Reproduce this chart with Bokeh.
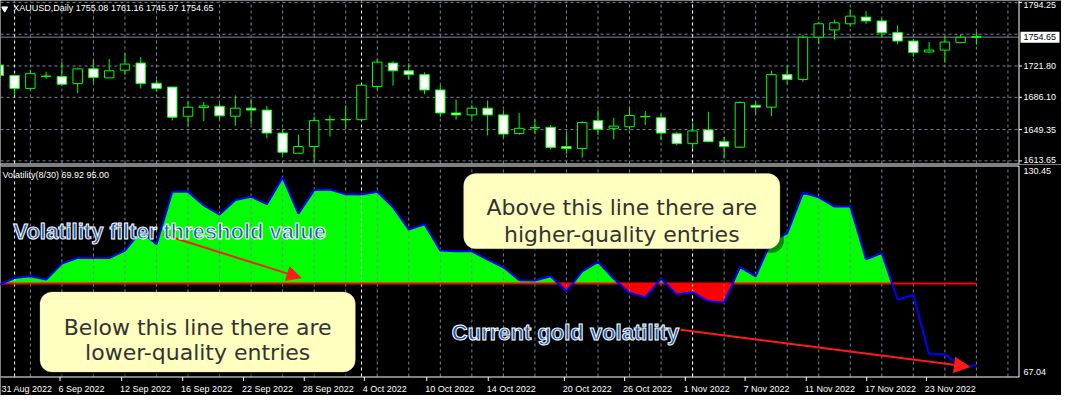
from bokeh.plotting import figure
from bokeh.layouts import column
from bokeh.models import Range1d, Label, BoxAnnotation, Arrow, NormalHead, ColumnDataSource
from bokeh.core.properties import value
from bokeh.embed import file_html
from bokeh.resources import INLINE

# ---------------- data ----------------
bar_index = list(range(-1, 62))
opens = [1722.89, 1710.87, 1696.24, 1709.90, 1709.78, 1701.70, 1718.52, 1708.25, 1716.99, 1725.08,
         1702.14, 1697.77, 1664.56, 1674.39, 1675.92, 1664.56, 1673.73, 1671.55, 1645.33, 1622.39,
         1630.04, 1660.40, 1660.80, 1660.62, 1698.42, 1725.08, 1716.34, 1711.97, 1694.49, 1668.27,
         1666.09, 1673.73, 1666.09, 1644.89, 1651.20, 1651.89, 1630.04, 1627.85, 1659.53, 1650.79,
         1652.54, 1664.00, 1662.81, 1644.57, 1633.31, 1648.94, 1635.50, 1629.27, 1677.01, 1674.83,
         1711.97, 1706.51, 1754.57, 1762.87, 1769.86, 1777.51, 1773.14, 1760.03, 1750.20, 1737.75,
         1739.93, 1748.67, 1755.08]
highs = [1725.40, 1711.50, 1717.43, 1715.24, 1726.50, 1719.94, 1729.01, 1729.77, 1736.33, 1731.96,
         1706.07, 1697.77, 1680.94, 1680.62, 1679.19, 1688.26, 1684.66, 1676.25, 1650.03, 1643.47,
         1664.23, 1665.32, 1677.01, 1700.50, 1730.10, 1727.26, 1725.08, 1714.48, 1699.95, 1683.56,
         1677.67, 1682.47, 1671.55, 1668.27, 1660.62, 1654.40, 1645.33, 1658.77, 1671.55, 1662.81,
         1675.48, 1670.46, 1666.41, 1647.08, 1657.35, 1669.69, 1640.96, 1681.38, 1681.38, 1716.34,
         1721.80, 1757.08, 1772.05, 1774.56, 1786.58, 1784.39, 1775.98, 1768.01, 1752.71, 1749.11,
         1755.23, 1757.85, 1761.16]
lows = [1709.80, 1689.03, 1694.49, 1707.16, 1699.19, 1690.77, 1702.79, 1708.25, 1711.53, 1696.24,
        1692.63, 1659.86, 1653.63, 1659.10, 1660.62, 1653.63, 1655.49, 1639.43, 1620.86, 1622.39,
        1613.98, 1641.62, 1650.03, 1660.00, 1695.14, 1699.51, 1706.07, 1689.68, 1663.46, 1660.62,
        1661.72, 1642.71, 1640.52, 1643.47, 1644.24, 1626.76, 1621.63, 1617.26, 1643.15, 1638.34,
        1648.94, 1654.40, 1637.25, 1631.46, 1627.09, 1635.06, 1616.49, 1628.18, 1666.41, 1664.56,
        1701.70, 1703.88, 1746.49, 1751.95, 1766.59, 1769.43, 1754.57, 1746.49, 1732.29, 1737.09,
        1725.40, 1748.67, 1745.97]
closes = [1710.87, 1696.24, 1713.06, 1710.30, 1701.04, 1718.52, 1708.69, 1716.34, 1723.98, 1701.70,
          1696.24, 1663.46, 1674.83, 1676.25, 1664.99, 1673.73, 1671.55, 1645.33, 1623.48, 1630.04,
          1659.53, 1660.80, 1660.50, 1699.95, 1726.17, 1716.34, 1711.97, 1694.49, 1668.27, 1666.09,
          1673.73, 1666.09, 1644.24, 1650.79, 1651.60, 1628.94, 1627.85, 1657.35, 1649.70, 1653.31,
          1665.32, 1664.40, 1645.33, 1633.31, 1647.84, 1635.50, 1630.04, 1680.29, 1674.83, 1711.97,
          1706.51, 1754.57, 1769.86, 1770.96, 1778.60, 1773.14, 1759.60, 1750.20, 1737.09, 1739.93,
          1749.11, 1754.57, 1754.65]
volatility = [94.6, 96.7, 97.2, 96.2, 101.1, 102.9, 102.8, 102.8, 105.1, 111.0,
              107.0, 123.1, 123.1, 118.9, 116.1, 120.6, 121.6, 119.3, 127.5, 116.4,
              123.6, 123.8, 122.3, 122.28, 123.08, 118.36, 111.49, 113.14, 105.09, 104.88,
              104.88, 102.35, 99.99, 96.04, 95.95, 97.21, 92.61, 98.69, 101.64, 96.45,
              92.11, 90.84, 96.45, 91.61, 92.32, 89.55, 89.16, 99.99, 97.21, 108.04,
              110.40, 122.78, 121.40, 118.57, 118.57, 102.43, 104.29, 90.05, 91.52, 73.33,
              73.33, 69.70, 69.92]
threshold = 95.00
fill_until_bar = 55          # last bar of the filled histogram
last_price = 1754.65
price_ticks = [1794.25, 1721.80, 1686.10, 1649.35, 1613.65]
price_grid = [1794.25, 1758.00, 1721.80, 1686.10, 1649.35, 1613.65]
vol_scale = [130.45, 67.04]
month_starts = [0, 22, 43]
date_labels = ["31 Aug 2022", "6 Sep 2022", "12 Sep 2022", "16 Sep 2022", "22 Sep 2022", "28 Sep 2022",
               "4 Oct 2022", "10 Oct 2022", "14 Oct 2022", "20 Oct 2022", "26 Oct 2022", "1 Nov 2022",
               "7 Nov 2022", "11 Nov 2022", "17 Nov 2022", "23 Nov 2022"]
date_pos = [-1.12, 2.78, 6.69, 10.56, 14.42, 18.27, 22.08, 26.04, 29.94, 34.77, 38.59, 42.44,
            46.23, 50.11, 53.94, 57.73]
header_text = "XAUUSD,Daily  1755.08 1761.16 1745.97 1754.65"
ind_header = "Volatility(8/30) 69.92 95.00"

# ---------------- layout constants ----------------
W = 1061
H1, H2 = 164, 231
PLOT_W = 1018
PLOT1_H = 163
GAP2, PLOT2_H, STRIP2 = 2, 210, 19
X0, X_EDGE = -0.894, 63.67
P_LO, P_HI = 1610.7, 1796.41
V_LO, V_HI = 66.54, 130.83
ux = (X_EDGE - X0) / PLOT_W
uy1 = (P_HI - P_LO) / PLOT1_H
uy2 = (V_HI - V_LO) / PLOT2_H
X_FULL = X0 + W * ux

BG = "black"
GRID = "#778899"
LIME = "#00ff00"
FONT = "Liberation Sans"
F9 = "9px"

xr = Range1d(X0, X_FULL)

def make_fig(h, yr):
    p = figure(width=W, height=h, x_range=xr, y_range=yr, output_backend="svg",
               toolbar_location=None, x_axis_location=None, y_axis_location=None,
               min_border=0, min_border_left=0, min_border_right=0, min_border_top=0,
               min_border_bottom=0, background_fill_color=BG, border_fill_color=BG,
               outline_line_color=None)
    p.grid.visible = False
    return p

odd_ticks = list(range(1, 64, 2))

def vgrid(p, lo, hi):
    n = len(odd_ticks)
    p.segment(x0=odd_ticks, y0=[lo] * n, x1=odd_ticks, y1=[hi] * n,
              line_color=GRID, line_dash="3 3", line_width=1)

def month_lines(p, lo, hi):
    n = len(month_starts)
    p.segment(x0=month_starts, y0=[lo] * n, x1=month_starts, y1=[hi] * n,
              line_color="white", line_dash="3 3", line_width=1)

def txt(p, x, y, t, color="white", align="left", baseline="middle", size=F9, font=FONT):
    p.text(x=x, y=y, text=t, text_color=color, text_align=align, text_baseline=baseline,
           text_font=value(font), text_font_size=size)

# ---------------- price panel ----------------
p1 = make_fig(H1, Range1d(P_LO - 1 * uy1, P_HI))
vgrid(p1, P_LO, P_HI)
m = len(price_grid)
p1.segment(x0=[X0] * m, y0=price_grid, x1=[X_EDGE] * m, y1=price_grid,
           line_color=GRID, line_dash="3 3", line_width=1)
month_lines(p1, P_LO, P_HI)
p1.segment(x0=[X0], y0=[last_price], x1=[X_EDGE], y1=[last_price], line_color=GRID, line_width=1)

src = ColumnDataSource(dict(
    x=bar_index, l=lows, h=highs,
    top=[max(o, c) for o, c in zip(opens, closes)],
    bot=[min(o, c) for o, c in zip(opens, closes)],
    fill=["white" if c < o else "black" for o, c in zip(opens, closes)],
))
p1.segment(x0="x", y0="l", x1="x", y1="h", source=src, line_color=LIME, line_width=1)
p1.vbar(x="x", width=0.6, top="top", bottom="bot", source=src, fill_color="fill",
        line_color=LIME, line_width=1)

# frame lines + right price scale
xe = X_EDGE + 0.5 * ux
p1.segment(x0=[xe], y0=[P_LO - 1 * uy1], x1=[xe], y1=[P_HI], line_color="white", line_width=1)
p1.segment(x0=[X0], y0=[P_LO - 0.5 * uy1], x1=[xe], y1=[P_LO - 0.5 * uy1], line_color="white", line_width=1)
k = len(price_ticks)
p1.segment(x0=[xe] * k, y0=price_ticks, x1=[X_EDGE + 3.5 * ux] * k, y1=price_ticks,
           line_color="white", line_width=1)
label_y = [min(max(v, P_LO + 3.7 * uy1), P_HI - 4.8 * uy1) for v in price_ticks]  # keep labels on canvas
txt(p1, [X_EDGE + 5 * ux] * k, label_y, [f"{v:.2f}" for v in price_ticks])
p1.rect(x=[X_EDGE + 21.5 * ux], y=[last_price], width=39, height=11,
        width_units="screen", height_units="screen", fill_color="white", line_color=None)
txt(p1, [X_EDGE + 5 * ux], [last_price], [f"{last_price:.2f}"], color="black")

p1.scatter(x=[-0.63], y=[1787.1], marker="inverted_triangle", size=6, color="white")
txt(p1, [-0.08], [1787.6], [header_text])

# ---------------- volatility panel ----------------
p2 = make_fig(H2, Range1d(V_LO - STRIP2 * uy2, V_HI + GAP2 * uy2))

xs_f, ys_f = [], []
for i in range(len(bar_index) - 1):
    x0, v0, x1, v1 = bar_index[i], volatility[i], bar_index[i + 1], volatility[i + 1]
    if x0 > fill_until_bar:
        break
    xs_f.append(x0); ys_f.append(v0)
    if (v0 - threshold) * (v1 - threshold) < 0:
        t = (threshold - v0) / (v1 - v0)
        xs_f.append(x0 + t * (x1 - x0)); ys_f.append(threshold)
up = [max(v, threshold) for v in ys_f]
dn = [min(v, threshold) for v in ys_f]
thr_row = [threshold] * len(xs_f)
p2.varea(x=xs_f, y1=thr_row, y2=up, fill_color=LIME)
p2.varea(x=xs_f, y1=dn, y2=thr_row, fill_color="#ff0000")

vgrid(p2, V_LO, V_HI)
month_lines(p2, V_LO, V_HI)

p2.line(x=[bar_index[0], bar_index[-1]], y=[threshold, threshold], line_color="#ff0000", line_width=2)
p2.line(x=bar_index, y=volatility, line_color="#0000ff", line_width=2)

# frame lines, scale labels, date axis
yt, yb = V_HI + 0.5 * uy2, V_LO - 0.5 * uy2
p2.segment(x0=[X0, X0, xe], y0=[yt, yb, yb], x1=[xe, xe, xe], y1=[yt, yb, yt],
           line_color="white", line_width=1)
txt(p2, [X_EDGE + 5 * ux], [vol_scale[0]], [f"{vol_scale[0]:.2f}"], baseline="top")
txt(p2, [X_EDGE + 5 * ux], [vol_scale[1]], [f"{vol_scale[1]:.2f}"], baseline="bottom")
nd = len(date_pos)
tick_x = [d + 0.1 for d in date_pos]
p2.segment(x0=tick_x, y0=[yb] * nd, x1=tick_x, y1=[V_LO - 4.5 * uy2] * nd,
           line_color="white", line_width=1)
date_x = [max(d, X0 + 1 * ux) for d in date_pos]  # keep first label on canvas
txt(p2, date_x, [V_LO - 12.2 * uy2] * nd, date_labels, baseline="alphabetic")
txt(p2, [-0.77], [128.1], [ind_header])

# ---------------- annotations ----------------
has_radius = "border_radius" in BoxAnnotation.properties()

def note_box(left, right, top, bottom):
    sx, sy = 4 * ux, 4 * uy2
    kw = dict(border_radius=12) if has_radius else {}
    p2.add_layout(BoxAnnotation(left=left + sx, right=right + sx, top=top - sy, bottom=bottom - sy,
                                fill_color="black", fill_alpha=0.45, line_color=None, **kw))
    p2.add_layout(BoxAnnotation(left=left, right=right, top=top, bottom=bottom,
                                fill_color="#ffffc0", fill_alpha=1.0, line_color="#d8d3a8",
                                line_width=1, **kw))

note_box(28.48, 48.54, 128.68, 105.68)
note_box(1.61, 21.61, 92.41, 67.93)

box_kw = dict(text_color="#333333", text_font="DejaVu Sans", text_font_size="22px",
              text_align="center", text_baseline="alphabetic")
p2.add_layout(Label(x=38.51, y=118.36, text="Above this line there are", **box_kw))
p2.add_layout(Label(x=38.51, y=110.10, text="higher-quality entries", **box_kw))
p2.add_layout(Label(x=11.61, y=81.5, text="Below this line there are", **box_kw))
p2.add_layout(Label(x=11.61, y=73.83, text="lower-quality entries", **box_kw))

has_outline = "text_outline_color" in Label.properties()
BLUE_TXT = "#1a55a8"

def blue_text(x, y, text):
    kw = dict(text_font=FONT, text_font_size="22px", text_font_style="bold",
              text_align="left", text_baseline="alphabetic")
    if has_outline:
        p2.add_layout(Label(x=x, y=y, text=text, text_color=BLUE_TXT, text_outline_color="white", **kw))
    else:
        for dx, dy in [(-1.5, 0), (1.5, 0), (0, -1.5), (0, 1.5)]:
            p2.add_layout(Label(x=x + dx * ux, y=y + dy * uy2, text=text, text_color="white", **kw))
        p2.add_layout(Label(x=x, y=y, text=text, text_color=BLUE_TXT, **kw))

RED = "#ff1a1a"
p2.add_layout(Arrow(end=NormalHead(size=14, fill_color=RED, line_color=RED),
                    x_start=9.42, y_start=110.01, x_end=18.17, y_end=96.74,
                    line_color=RED, line_width=2))
p2.add_layout(Arrow(end=NormalHead(size=15, fill_color=RED, line_color=RED),
                    x_start=42.23, y_start=80.82, x_end=60.56, y_end=69.49,
                    line_color=RED, line_width=2))

blue_text(-0.08, 111.0, "Volatility filter threshold value")
blue_text(27.73, 80.02, "Current gold volatility")

layout = column(p1, p2, spacing=0)
open("out.html", "w").write(file_html(layout, INLINE))
